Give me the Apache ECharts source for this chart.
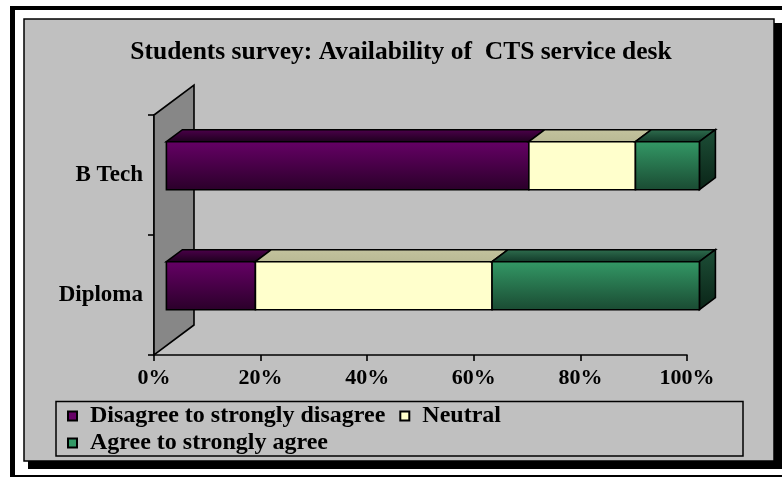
<!DOCTYPE html>
<html>
<head>
<meta charset="utf-8">
<script src="https://cdn.jsdelivr.net/npm/echarts@6/dist/echarts.min.js"></script>
<style>
  html, body { margin: 0; padding: 0; background: #fff; }
  #chart { width: 782px; height: 477px; }
</style>
</head>
<body>
<div id="chart"></div>
<script>
// Survey answers, percent of each group of students
const categories = ['Diploma', 'B Tech'];
const seriesNames = ['Disagree to strongly disagree', 'Neutral', 'Agree to strongly agree'];
const disagree = [16.7, 68];
const neutral = [44.4, 20];
const agree = [38.9, 12];
const tickLabels = ['0%', '20%', '40%', '60%', '80%', '100%'];

const FONT = "'Liberation Serif', 'Times New Roman', serif";
// depth vector of the 3D floor/wall (screen px) and the slice of it a bar occupies
const DEPTH = [40, -30];
const BAR_FRONT = 0.31;
const BAR_DEPTH = 0.4;

const faces = [
  { legend: '#660066', front: ['#660066', '#2a0029'], top: ['#4e004c', '#1c001c'], side: ['#3a0038', '#140014'] },
  { legend: '#ffffcc', front: ['#ffffcc', '#ffffcc'], top: ['#c3c39e', '#b9b994'], side: ['#c0c09a', '#a6a683'] },
  { legend: '#339966', front: ['#339966', '#1a4a32'], top: ['#2f6f4f', '#113828'], side: ['#1d4f37', '#0a2417'] }
];

const valueSets = [disagree, neutral, agree];
const stacked = valueSets.map((vals, s) =>
  categories.map((c, i) => {
    let start = 0;
    for (let k = 0; k < s; k++) start += valueSets[k][i];
    return [start, start + vals[i], i];
  })
);

function grad(stops) {
  return new echarts.graphic.LinearGradient(0, 0, 0, 1, [
    { offset: 0, color: stops[0] },
    { offset: 1, color: stops[1] }
  ]);
}

const EDGE = { stroke: '#000', lineWidth: 1.6, lineJoin: 'miter' };

function barRenderer(s) {
  const f = faces[s];
  const isLast = s === valueSets.length - 1;
  return function (params, api) {
    const a = api.value(0), b = api.value(1), c = api.value(2);
    const p0 = api.coord([a, c]);
    const p1 = api.coord([b, c]);
    const band = api.size([0, 1])[1];
    const h = band * 0.4;
    const ox = DEPTH[0] * BAR_FRONT, oy = DEPTH[1] * BAR_FRONT;
    const dx = DEPTH[0] * BAR_DEPTH, dy = DEPTH[1] * BAR_DEPTH;
    const x0 = p0[0] + ox, x1 = p1[0] + ox;
    const yT = p0[1] + oy - h / 2, yB = p0[1] + oy + h / 2;
    const children = [];
    children.push({
      type: 'polygon',
      shape: { points: [[x0, yT], [x0 + dx, yT + dy], [x1 + dx, yT + dy], [x1, yT]] },
      style: Object.assign({ fill: grad(f.top) }, EDGE)
    });
    if (isLast) {
      children.push({
        type: 'polygon',
        shape: { points: [[x1, yT], [x1 + dx, yT + dy], [x1 + dx, yB + dy], [x1, yB]] },
        style: Object.assign({ fill: grad(f.side) }, EDGE)
      });
    }
    children.push({
      type: 'polygon',
      shape: { points: [[x0, yT], [x1, yT], [x1, yB], [x0, yB]] },
      style: Object.assign({ fill: grad(f.front) }, EDGE)
    });
    return { type: 'group', children: children };
  };
}

// side wall standing on the category axis
function wallRenderer(params, api) {
  const bottom = api.coord([0, 0]);
  const top = api.coord([0, categories.length - 1]);
  const band = api.size([0, 1])[1];
  const x = bottom[0];
  const yB = bottom[1] + band / 2;
  const yT = top[1] - band / 2;
  return {
    type: 'polygon',
    shape: { points: [[x, yB], [x, yT], [x + DEPTH[0], yT + DEPTH[1]], [x + DEPTH[0], yB + DEPTH[1]]] },
    style: { fill: '#878787', stroke: '#000', lineWidth: 1.6 }
  };
}

const series = [{
  type: 'custom',
  name: 'wall',
  renderItem: wallRenderer,
  data: [[0, 0, 0]],
  encode: { x: 0, y: 2 },
  silent: true,
  z: 1
}];
stacked.forEach((data, s) => {
  series.push({
    type: 'custom',
    name: seriesNames[s],
    renderItem: barRenderer(s),
    data: data,
    encode: { x: [0, 1], y: 2 },
    itemStyle: { color: faces[s].legend, borderColor: '#000', borderWidth: 1 },
    z: 3 + s
  });
});

const legendText = { fontFamily: FONT, fontWeight: 'bold', fontSize: 24, color: '#000', padding: [0, 0, 0, 8] };

const chart = echarts.init(document.getElementById('chart'), null, { renderer: 'canvas' });
chart.setOption({
  backgroundColor: '#ffffff',
  animation: false,
  title: {
    text: 'Students survey: Availability of  CTS service desk',
    left: 401,
    top: 39,
    textAlign: 'center',
    padding: 0,
    textStyle: { fontFamily: FONT, fontWeight: 'bold', fontSize: 25.5, color: '#000' }
  },
  graphic: [
    { type: 'rect', z: -20, shape: { x: 10, y: 6, width: 772, height: 4 }, style: { fill: '#000' } },
    { type: 'rect', z: -20, shape: { x: 10, y: 6, width: 5, height: 471 }, style: { fill: '#000' } },
    { type: 'rect', z: -20, shape: { x: 10, y: 475, width: 772, height: 2 }, style: { fill: '#000' } },
    { type: 'rect', z: -19, shape: { x: 28, y: 23, width: 754, height: 446 }, style: { fill: '#000' } },
    { type: 'rect', z: -18, shape: { x: 24, y: 19, width: 750, height: 442 }, style: { fill: '#c0c0c0', stroke: '#000', lineWidth: 1.5 } },
    { type: 'rect', z: -17, shape: { x: 56, y: 401.5, width: 687, height: 54.5 }, style: { fill: 'none', stroke: '#000', lineWidth: 1.5 } }
  ],
  legend: [
    {
      data: [seriesNames[0], seriesNames[1]],
      left: 67, top: 404, padding: 0, itemGap: 14,
      itemWidth: 9, itemHeight: 9, icon: 'rect',
      textStyle: legendText, selectedMode: false
    },
    {
      data: [seriesNames[2]],
      left: 67, top: 431, padding: 0, itemGap: 14,
      itemWidth: 9, itemHeight: 9, icon: 'rect',
      textStyle: legendText, selectedMode: false
    }
  ],
  grid: { left: 154, right: 95, top: 115, bottom: 122, containLabel: false },
  xAxis: {
    type: 'value', min: 0, max: 100, interval: 20,
    axisLine: { show: true, lineStyle: { color: '#000', width: 1.6 } },
    axisTick: { show: true, length: 6, lineStyle: { color: '#000', width: 1.6 } },
    splitLine: { show: false },
    axisLabel: {
      margin: 12, color: '#000', fontFamily: FONT, fontWeight: 'bold', fontSize: 22,
      formatter: v => tickLabels[Math.round(v / 20)]
    }
  },
  yAxis: {
    type: 'category', data: categories,
    axisLine: { show: true, lineStyle: { color: '#000', width: 1.6 } },
    axisTick: { show: true, length: 6, lineStyle: { color: '#000', width: 1.6 } },
    splitLine: { show: false },
    axisLabel: { margin: 11, color: '#000', fontFamily: FONT, fontWeight: 'bold', fontSize: 23 }
  },
  series: series
});
</script>
</body>
</html>
